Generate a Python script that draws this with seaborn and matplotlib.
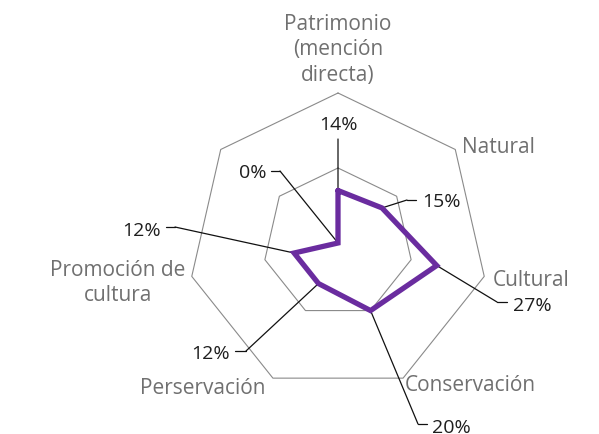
import numpy as np
import matplotlib
matplotlib.use('Agg')
import matplotlib.pyplot as plt
import seaborn as sns
from matplotlib.lines import Line2D

# datos del radar
categories = ['Patrimonio\n(mención\ndirecta)', 'Natural', 'Cultural', 'Conservación',
              'Perservación', 'Promoción de\ncultura', '']
values = [14, 15, 27, 20, 12, 12, 0]
value_labels = ['14%', '15%', '27%', '20%', '12%', '12%', '0%']
grid_levels = [20, 40]

W, H = 599, 435
PURPLE = '#6a2c9f'
GRID = '#8a8a8a'
CAT_COLOR = '#707070'
VAL_COLOR = '#1e1e1e'


def ff(x, y):
    """pixeles (origen arriba-izquierda) -> fraccion de figura"""
    return (x / W, 1 - y / H)


# posiciones de etiquetas de categoria: (x, y, ha)
cat_pos = [(338, 50, 'center'), (462, 148, 'left'), (493, 280, 'left'),
           (405, 386, 'left'), (265, 388, 'right'), (118, 283, 'center'), None]

# etiquetas de valor: (texto x, texto y, ha, codo, fin del trazo horizontal)
val_pos = [
    (338, 125, 'center', (338, 140), None),
    (422, 202, 'left', (407, 201), (416, 201)),
    (513, 306, 'left', (497, 303), (507, 303)),
    (432, 428, 'left', (418, 425), (427, 425)),
    (230, 354, 'right', (246, 352), (235, 352)),
    (161, 231, 'right', (175, 228), (166, 228)),
    (267, 173, 'right', (280, 172), (271, 172)),
]

sns.set_theme(style='white')
plt.rcParams['font.family'] = ['Open Sans', 'DejaVu Sans']

fig = plt.figure(figsize=(W / 100, H / 100), dpi=100)
cx, cy, R = 338, 244, 150
ax = fig.add_axes([(cx - R) / W, (H - cy - R) / H, 2 * R / W, 2 * R / H], projection='polar')
ax.set_theta_zero_location('N')
ax.set_theta_direction(-1)

n = len(values)
angles = np.arange(n) * 2 * np.pi / n
closed_angles = np.append(angles, 2 * np.pi)

for lvl in grid_levels:
    ax.plot(closed_angles, [lvl] * (n + 1), color=GRID, lw=0.8, clip_on=False, zorder=1)

sns.lineplot(x=closed_angles, y=values + [values[0]], sort=False, estimator=None,
             ax=ax, color=PURPLE, lw=3.8, solid_joinstyle='miter', zorder=5)

ax.set_ylim(0, 40)
ax.set_xticks([])
ax.set_yticks([])
ax.set_xlabel('')
ax.set_ylabel('')
ax.grid(False)
ax.spines['polar'].set_visible(False)
ax.set_facecolor('none')

for cat, pos in zip(categories, cat_pos):
    if pos is None or not cat:
        continue
    x, y, ha = pos
    fig.text(*ff(x, y), cat, ha=ha, va='center', fontsize=15, color=CAT_COLOR,
             linespacing=1.3, multialignment='center')

for ang, v, lab, pos in zip(angles, values, value_labels, val_pos):
    tx, ty, ha, elbow, tick = pos
    ax.annotate('', xy=(ang, v), xycoords='data', xytext=ff(*elbow),
                textcoords='figure fraction', annotation_clip=False,
                arrowprops=dict(arrowstyle='-', color='#111111', lw=0.9,
                                shrinkA=0, shrinkB=0), zorder=3)
    if tick is not None:
        (x0, y0), (x1, y1) = ff(*elbow), ff(*tick)
        fig.add_artist(Line2D([x0, x1], [y0, y1], color='#111111', lw=0.9))
    fig.text(*ff(tx, ty), lab, ha=ha, va='center', fontsize=14, color=VAL_COLOR)

fig.savefig('out.png', dpi=100)
